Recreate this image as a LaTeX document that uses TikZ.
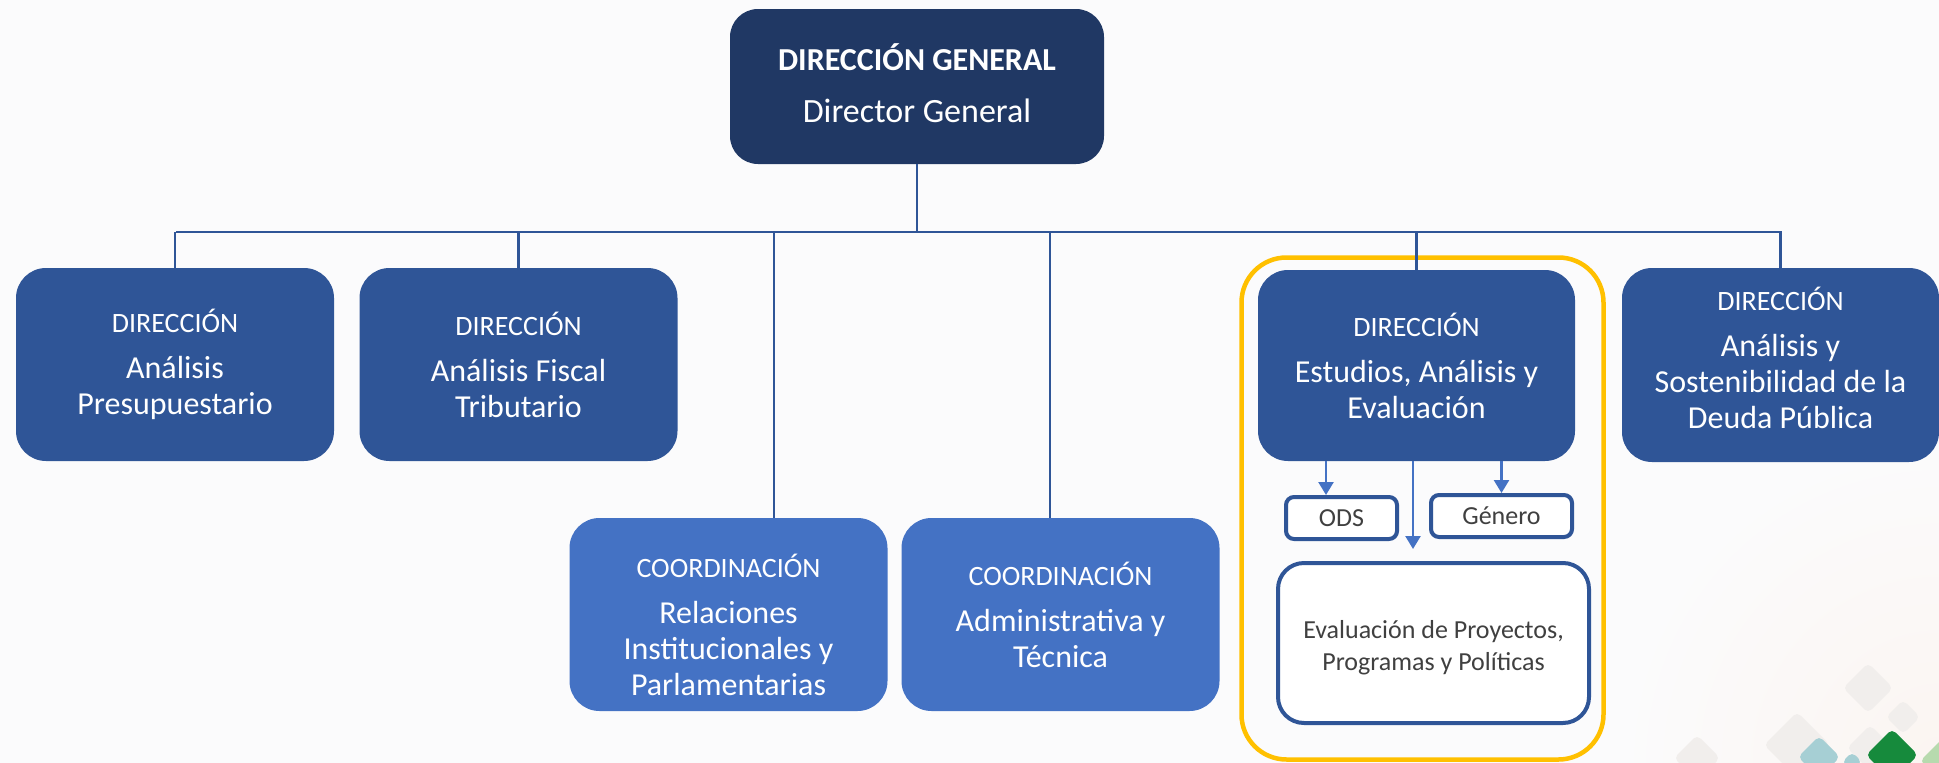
\documentclass[tikz,border=0pt]{standalone}
\usepackage{fontspec}
\setmainfont{Carlito}
\usetikzlibrary{arrows.meta,calc}
\definecolor{navy}{HTML}{203864}
\definecolor{dirblue}{HTML}{2F5597}
\definecolor{coordblue}{HTML}{4472C4}
\definecolor{gold}{HTML}{FFC000}
\definecolor{txtgray}{HTML}{404040}
\definecolor{bgcol}{HTML}{FBFBFC}
\definecolor{bgwarm}{HTML}{FBF5F1}
\definecolor{leafgreen}{HTML}{168A3C}
\definecolor{leafteal}{HTML}{A6CFD4}
\definecolor{leaflight}{HTML}{B7DAAE}
\definecolor{leafbeige}{HTML}{F1EEEC}
\begin{document}
\begin{tikzpicture}[x=1pt,y=-1pt,
  topbox/.style={fill=navy,rounded corners=28pt,minimum width=374pt,minimum height=155pt,inner sep=0pt},
  dirbox/.style={fill=dirblue,text=white,rounded corners=30pt,minimum width=318pt,minimum height=193pt,align=center,inner sep=0pt,font=\fontsize{32}{36}\selectfont},
  coordbox/.style={dirbox,fill=coordblue},
  boxtext/.style={text=white,align=center,inner sep=0pt,font=\fontsize{32}{36}\selectfont},
  subbox/.style={draw=dirblue,line width=4pt,fill=white,text=txtgray,rounded corners=8pt,align=center,inner sep=0pt,font=\fontsize{26}{32}\selectfont},
  evalbox/.style={subbox,rounded corners=26pt},
  subtext/.style={text=txtgray,align=center,inner sep=0pt,font=\fontsize{26}{32}\selectfont},
  groupbox/.style={draw=gold,line width=4.5pt,rounded corners=45pt},
  link/.style={draw=dirblue,line width=2.5pt},
  arr/.style={draw=coordblue,line width=2.5pt,-{Triangle[width=15pt,length=13pt]}},
  leaf/.style={rounded corners=5pt}
]
\useasboundingbox (0,0) rectangle (1939,763);
\clip (0,0) rectangle (1939,763);
\fill[bgcol] (0,0) rectangle (1939,763);
\shade[inner color=bgwarm,outer color=bgcol] (1939,763) circle[radius=320pt];

% corner decoration
\fill[leafbeige,leaf] (1868,663) -- (1893,688) -- (1868,713) -- (1843,688) -- cycle;
\fill[leafbeige,leaf] (1903,700) -- (1920,717) -- (1903,734) -- (1886,717) -- cycle;
\fill[leafbeige,leaf] (1797,712) -- (1830,745) -- (1797,778) -- (1764,745) -- cycle;
\fill[leafbeige,leaf] (1697,735) -- (1720,758) -- (1697,781) -- (1674,758) -- cycle;
\fill[leafbeige,leaf] (1870,725) -- (1893,748) -- (1870,771) -- (1847,748) -- cycle;
\fill[leafteal,leaf] (1819,736) -- (1840,757) -- (1819,778) -- (1798,757) -- cycle;
\fill[leafteal,leaf] (1852,752) -- (1862,762) -- (1852,772) -- (1842,762) -- cycle;
\fill[leaflight,leaf] (1946,735) -- (1972,761) -- (1946,787) -- (1920,761) -- cycle;
\fill[leafgreen,leaf] (1892,729) -- (1918,755) -- (1892,781) -- (1866,755) -- cycle;

% nodes
\node[topbox] (top) at (917,86.5) {};
\node[boxtext,font=\fontsize{34}{38}\selectfont] (top-t) at ([yshift=3pt]top.center) {{\bfseries\fontsize{32}{38}\selectfont DIRECCIÓN GENERAL}\\[14pt]Director General};

\node[dirbox] (b1) at (175,364.5) {{\fontsize{28}{34}\selectfont DIRECCIÓN}\\[10pt]Análisis\\Presupuestario};
\node[dirbox] (b2) at (518.5,364.5) {{\fontsize{28}{34}\selectfont DIRECCIÓN}\\[10pt]Análisis Fiscal\\Tributario};
\node[coordbox] (c1) at (728.5,614.5) {};
\node[boxtext] (c1-t) at ([yshift=-10pt]c1.center) {{\fontsize{28}{34}\selectfont COORDINACIÓN}\\[10pt]Relaciones\\Institucionales y\\Parlamentarias};
\node[coordbox] (c2) at (1060.5,614.5) {{\fontsize{28}{34}\selectfont COORDINACIÓN}\\[10pt]Administrativa y\\Técnica};

\node[groupbox,minimum width=362pt,minimum height=502pt] (grp) at (1422.5,508.5) {};
\node[dirbox,minimum width=317pt,minimum height=191pt] (dea) at (1416.5,365.5) {{\fontsize{28}{34}\selectfont DIRECCIÓN}\\[10pt]Estudios, Análisis y\\Evaluación};
\node[dirbox,minimum width=317pt,minimum height=194pt] (deu) at (1780.5,365) {};
\node[boxtext] (deu-t) at ([yshift=7pt]deu.center) {{\fontsize{28}{34}\selectfont DIRECCIÓN}\\[10pt]Análisis y\\Sostenibilidad de la\\Deuda Pública};

\node[subbox,minimum width=111pt,minimum height=42pt] (ods) at (1341.5,518) {ODS};
\node[subbox,minimum width=141pt,minimum height=42pt] (gen) at (1501.5,516) {Género};
\node[evalbox,minimum width=311pt,minimum height=160pt] (eval) at (1433.5,643) {};
\node[subtext] (eval-t) at ([yshift=-5pt]eval.center) {Evaluación de Proyectos,\\Programas y Políticas};

% bus
\coordinate (j) at (917,232);
\coordinate (busL) at (176,232);
\coordinate (busR) at (1782,232);
\coordinate (x3) at (774,0);
\coordinate (x4) at (1050,0);
\coordinate (a1) at (1326,0);
\coordinate (a2) at (1413,0);

\draw[link] (top.south) -- (j);
\draw[link] (busL) -- (busR);
\draw[link] (b1.north |- j) -- (b1.north);
\draw[link] (b2.north |- j) -- (b2.north);
\draw[link] (x3 |- j) -- (x3 |- c1.north);
\draw[link] (x4 |- j) -- (x4 |- c2.north);
\draw[link] (dea.north |- j) -- (dea.north);
\draw[link] (deu.north |- j) -- (deu.north);

% inner arrows
\draw[arr] (a1 |- dea.south) -- (a1 |- ods.north);
\draw[arr] (a2 |- dea.south) -- ([yshift=12pt]a2 |- eval.north);
\draw[arr] (gen.north |- dea.south) -- (gen.north);
\end{tikzpicture}
\end{document}
